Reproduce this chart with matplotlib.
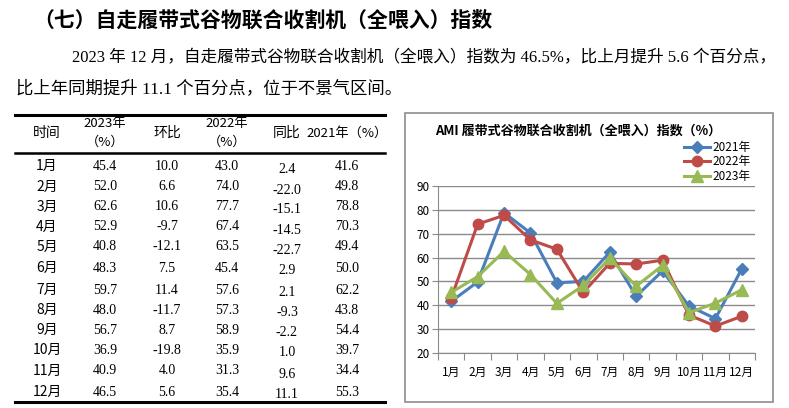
import matplotlib.pyplot as plt
from matplotlib.patches import Rectangle
from matplotlib.lines import Line2D

plt.rcParams['font.family'] = ['Noto Sans CJK SC', 'DejaVu Sans']

W, H = 789, 408

months = ['1月', '2月', '3月', '4月', '5月', '6月', '7月', '8月', '9月', '10月', '11月', '12月']
idx_2023 = [45.4, 52.0, 62.6, 52.9, 40.8, 48.3, 59.7, 48.0, 56.7, 36.9, 40.9, 46.5]
mom = [10.0, 6.6, 10.6, -9.7, -12.1, 7.5, 11.4, -11.7, 8.7, -19.8, 4.0, 5.6]
idx_2022 = [43.0, 74.0, 77.7, 67.4, 63.5, 45.4, 57.6, 57.3, 58.9, 35.9, 31.3, 35.4]
yoy = [2.4, -22.0, -15.1, -14.5, -22.7, 2.9, 2.1, -9.3, -2.2, 1.0, 9.6, 11.1]
idx_2021 = [41.6, 49.8, 78.8, 70.3, 49.4, 50.0, 62.2, 43.8, 54.4, 39.7, 34.4, 55.3]

heading = '（七）自走履带式谷物联合收割机（全喂入）指数'
para1 = '2023 年 12 月，自走履带式谷物联合收割机（全喂入）指数为 46.5%，比上月提升 5.6 个百分点，'
para2 = '比上年同期提升 11.1 个百分点，位于不景气区间。'
chart_title = 'AMI 履带式谷物联合收割机（全喂入）指数（%）'

fig = plt.figure(figsize=(W / 100, H / 100), dpi=100)
fig.patch.set_facecolor('white')


def fx(x):
    return x / W


def fy(y):
    return 1 - y / H


def txt(x, y, s, size, ha='center', weight='normal', family=None):
    kw = {}
    if family:
        kw['family'] = family
    fig.text(fx(x), fy(y), s, fontsize=size, ha=ha, va='center', weight=weight, color='black', **kw)


serif = ['Liberation Serif', 'Noto Sans CJK SC']

# heading + paragraph
txt(33, 20, heading, 15, ha='left', weight='bold')
txt(72, 58, para1, 12.0, ha='left', family=serif)
txt(16, 89, para2, 12.5, ha='left', family=serif)

# table rules
for y, lw in [(115, 2.2), (153, 1.8), (402, 2.2)]:
    fig.add_artist(Line2D([fx(15), fx(385)], [fy(y), fy(y)], color='black', lw=lw))

col_x = [47, 105, 167, 227, 287, 347]
txt(col_x[0], 133, '时间', 10)
txt(col_x[1], 124, '2023年', 9.5)
txt(col_x[1], 142, '（%）', 9.5)
txt(col_x[2], 133, '环比', 10)
txt(col_x[3], 124, '2022年', 9.5)
txt(col_x[3], 142, '（%）', 9.5)
txt(col_x[4], 133, '同比', 10)
txt(col_x[5], 133, '2021年（%）', 9.5)

row_y = [166, 187, 207, 227, 247, 268, 290, 310, 330, 350, 371, 392]
for i in range(12):
    y = row_y[i]
    txt(col_x[0], y, months[i], 10)
    txt(col_x[1], y, f'{idx_2023[i]:.1f}', 10, family=serif)
    txt(col_x[2], y, f'{mom[i]:.1f}', 10, family=serif)
    txt(col_x[3], y, f'{idx_2022[i]:.1f}', 10, family=serif)
    txt(col_x[4], y + 3, f'{yoy[i]:.1f}', 10, family=serif)
    txt(col_x[5], y, f'{idx_2021[i]:.1f}', 10, family=serif)

# chart frame
fig.add_artist(Rectangle((fx(405), fy(402)), fx(773) - fx(405), fy(113) - fy(402),
                         fill=False, edgecolor='#8c8c8c', lw=1.2))
txt(435, 131, chart_title, 9.4, ha='left', weight='bold')

ax = fig.add_axes([fx(438), fy(353), fx(755) - fx(438), fy(186) - fy(353)])
x = list(range(12))
grid_c = '#8a8a8a'
ax.set_ylim(20, 90)
ax.set_xlim(-0.5, 11.5)
ax.set_yticks(range(20, 91, 10))
ax.yaxis.grid(True, color=grid_c, lw=1)
ax.set_axisbelow(True)
for s in ['top', 'right']:
    ax.spines[s].set_visible(False)
for s in ['left', 'bottom']:
    ax.spines[s].set_color(grid_c)
ax.set_xticks([i + 0.5 for i in range(-1, 12)])
ax.set_xticklabels([])
ax.set_xticks(x, minor=True)
ax.set_xticklabels(months, minor=True, fontsize=8.5)
ax.tick_params(axis='x', which='major', length=5, color=grid_c, direction='out')
ax.tick_params(axis='x', which='minor', length=0, pad=9)
ax.tick_params(axis='y', length=4, color=grid_c, labelsize=8.5, pad=2)

l1, = ax.plot(x, idx_2021, color='#4A7EBB', lw=2.2, marker='D', ms=6, label='2021年')
l2, = ax.plot(x, idx_2022, color='#BE4B48', lw=2.2, marker='o', ms=7.5, label='2022年')
l3, = ax.plot(x, idx_2023, color='#98B954', lw=2.2, marker='^', ms=8, label='2023年')
for l in (l1, l2, l3):
    l.set_clip_on(False)

fig.legend(handles=[l1, l2, l3], loc='center left', bbox_to_anchor=(fx(678), fy(162)),
           frameon=False, fontsize=8.5, handlelength=2.2, handletextpad=0.2,
           labelspacing=0.15, borderpad=0)

fig.savefig('out.png', dpi=100, facecolor='white')
